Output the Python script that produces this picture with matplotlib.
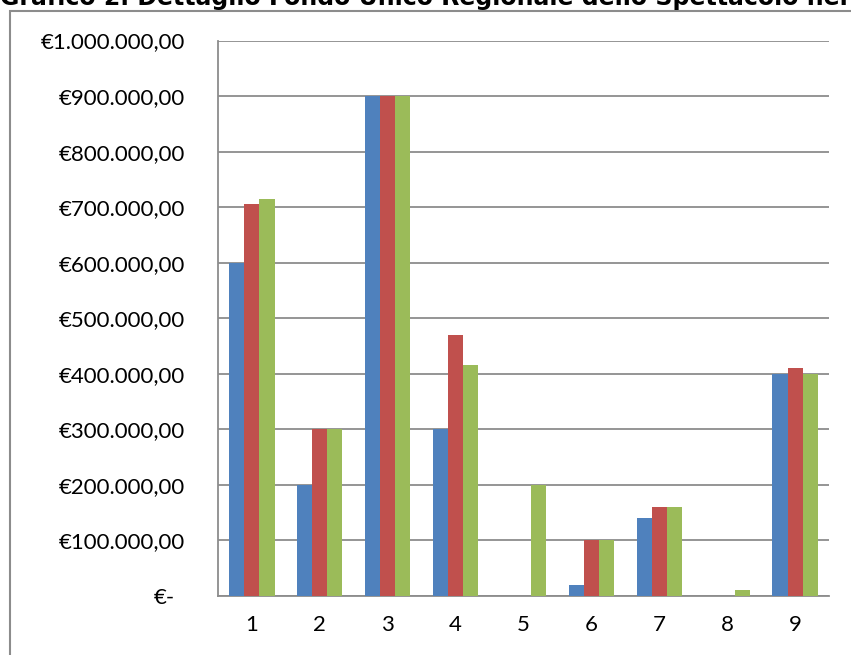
import numpy as np
import matplotlib
matplotlib.use('Agg')
import matplotlib.pyplot as plt
import matplotlib.transforms as mtransforms
from matplotlib.patches import Rectangle
from matplotlib.ticker import FuncFormatter

categories = [1, 2, 3, 4, 5, 6, 7, 8, 9]
serie1 = [600000, 200000, 900000, 300000, 0, 20000, 140000, 0, 400000]
serie2 = [705000, 300000, 900000, 470000, 0, 100000, 160000, 0, 410000]
serie3 = [715000, 300000, 900000, 415000, 200000, 100000, 160000, 10000, 400000]
colors = ['#4F81BD', '#C0504D', '#9BBB59']
title = 'Grafico 2. Dettaglio Fondo Unico Regionale dello Spettacolo nel triennio'

plt.rcParams['font.family'] = ['Lato', 'DejaVu Sans']

def euro(v, pos):
    if v == 0:
        return '€-'
    s = '{:,.2f}'.format(v).replace(',', 'X').replace('.', ',').replace('X', '.')
    return '€' + s

fig = plt.figure(figsize=(8.51, 6.55), dpi=100)
ax = fig.add_axes([218 / 851, 59 / 655, 611 / 851, 555.5 / 655])

x = np.arange(len(categories)) + 1
w = 0.222
for i, serie in enumerate([serie1, serie2, serie3]):
    ax.bar(x + (i - 1) * w, serie, width=w, color=colors[i], zorder=3)

ax.set_xlim(0.5, 9.5)
ax.set_ylim(0, 1000000)
ax.set_yticks(np.arange(0, 1000001, 100000))
ax.yaxis.set_major_formatter(FuncFormatter(euro))
ax.set_xticks(x)
ax.set_xticklabels([str(c) for c in categories])
ax.grid(axis='y', color='#8c8c8c', linewidth=1.3, zorder=0)
ax.tick_params(axis='both', length=0, labelsize=16, colors='black')
ax.tick_params(axis='y', pad=23.5)
ax.tick_params(axis='x', pad=14)
for s in ['top', 'right']:
    ax.spines[s].set_visible(False)
for s in ['left', 'bottom']:
    ax.spines[s].set_color('#8c8c8c')
    ax.spines[s].set_linewidth(1.3)

# accounting format leaves the dash short of the other labels
fig.canvas.draw()
zero = ax.get_yticklabels()[0]
zero.set_transform(zero.get_transform() + mtransforms.ScaledTranslation(-10 / 100, 0, fig.dpi_scale_trans))

# chart frame
fig.patches.append(Rectangle((10 / 851, -0.1), 1.2, (644 / 655) + 0.1, transform=fig.transFigure,
                             fill=False, edgecolor='#8c8c8c', linewidth=1.5))

# title sits above the crop, only its lower part shows
fig.text(0, 1 - 5 / 655, title, fontsize=17, fontweight='bold', family='DejaVu Sans',
         va='baseline', ha='left')

fig.savefig('out.png', dpi=100)
